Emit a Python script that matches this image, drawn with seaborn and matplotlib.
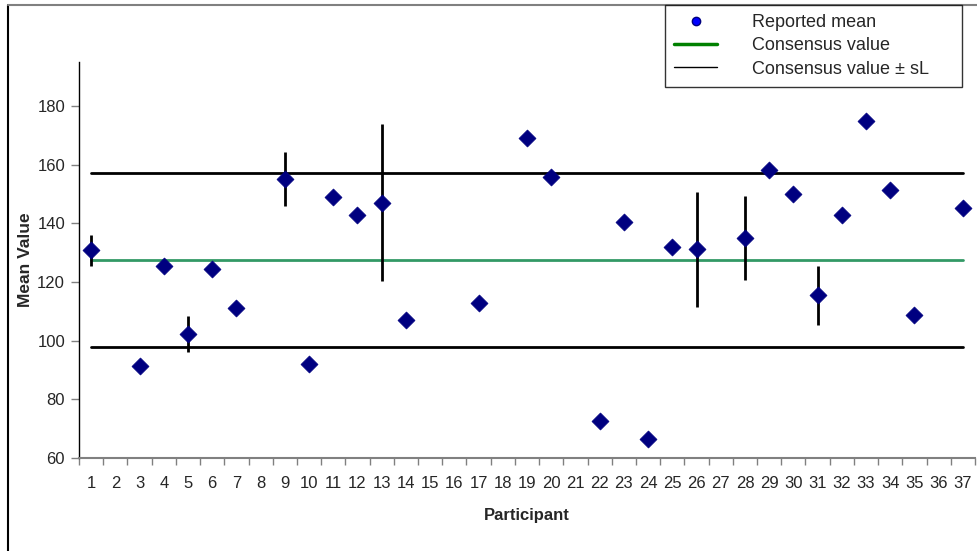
import numpy as np
import pandas as pd
import matplotlib
matplotlib.use("Agg")
import matplotlib.pyplot as plt
from matplotlib.lines import Line2D
import seaborn as sns

# ------------------------------------------------------------
# data
# ------------------------------------------------------------
participants = [str(i) for i in range(1, 38)]
reported_mean = [130.8, np.nan, 91.2, 125.5, 102.4, 124.5, 111.2, np.nan, 155.2, 92.0,
                 149.1, 143.0, 147.1, 107.1, np.nan, np.nan, 112.9, np.nan, 169.1, 155.7,
                 np.nan, 72.7, 140.4, 66.4, 131.8, 131.2, np.nan, 135.0, 158.1, 149.9,
                 115.4, 142.8, 174.8, 151.5, 108.6, np.nan, 145.2]
reported_sd = [5.3, 0, 0, 0, 6.1, 0, 2.0, 0, 9.2, 0,
               0, 0, 26.6, 0, 0, 0, 0, 0, 0, 0,
               0, 0, 0, 0, 0, 19.6, 0, 14.2, 0, 0,
               10.0, 0, 0, 0, 0, 0, 0]
consensus = 127.5
s_L = 29.8

df = pd.DataFrame({"Participant": participants,
                   "Mean": reported_mean,
                   "SD": reported_sd})
df["pos"] = np.arange(len(df))
df["Consensus"] = consensus
df["Upper"] = consensus + s_L
df["Lower"] = consensus - s_L

# ------------------------------------------------------------
# plot
# ------------------------------------------------------------
sns.set_style("white")
plt.rcParams["font.family"] = ["Liberation Sans", "DejaVu Sans"]

fig = plt.figure(figsize=(9.78, 5.51), dpi=100)
ax = fig.add_axes([79 / 978, 1 - 458 / 551, (975 - 79) / 978, (458 - 62) / 551])

sns.lineplot(data=df, x="pos", y="Upper", color="black", lw=2, ax=ax)
sns.lineplot(data=df, x="pos", y="Lower", color="black", lw=2, ax=ax)
sns.lineplot(data=df, x="pos", y="Consensus", color="#339966", lw=2, ax=ax)

bars = df[df["SD"] > 0]
ax.errorbar(bars["pos"], bars["Mean"], yerr=bars["SD"], fmt="none",
            ecolor="black", elinewidth=2, capsize=0, zorder=3)

sns.scatterplot(data=df, x="pos", y="Mean", marker="D", s=75,
                color="#000080", edgecolor="#000080", linewidth=0.5,
                zorder=4, ax=ax)

ax.set_xlim(-0.5, len(df) - 0.5)
ax.set_ylim(60, 195)
ax.set_yticks([60, 80, 100, 120, 140, 160, 180])
ax.set_xticks(df["pos"])
ax.set_xticklabels(participants)
ax.set_xticks(np.arange(-0.5, len(df)), minor=True)
ax.tick_params(axis="x", which="major", bottom=True, length=0, pad=13, labelsize=12)
ax.tick_params(axis="x", which="minor", bottom=True, length=5, width=1,
               color="#808080", direction="out")
ax.tick_params(axis="y", left=True, length=6, width=1, color="#808080",
               direction="out", labelsize=12, pad=4)

ax.set_xlabel("Participant", fontsize=12, fontweight="bold", labelpad=12)
ax.set_ylabel("Mean Value", fontsize=12.5, fontweight="bold", labelpad=3)

for side in ["top", "right"]:
    ax.spines[side].set_visible(False)
ax.spines["left"].set_color("black")
ax.spines["bottom"].set_color("#808080")
ax.spines["left"].set_linewidth(1)
ax.spines["bottom"].set_linewidth(1.5)

# outer chart border (left and top edges only visible)
fig.add_artist(Line2D([8 / 978, 8 / 978], [0, 1 - 5 / 551], color="black",
                      lw=1.5, transform=fig.transFigure))
fig.add_artist(Line2D([8 / 978, 1], [1 - 5 / 551, 1 - 5 / 551], color="#808080",
                      lw=1.5, transform=fig.transFigure))

handles = [
    Line2D([], [], marker="o", ls="none", color="#0000ff", markersize=6,
           markeredgecolor="#000080"),
    Line2D([], [], color="#008000", lw=2.5),
    Line2D([], [], color="black", lw=1),
]
labels = ["Reported mean", "Consensus value", "Consensus value \u00b1 sL"]
leg = fig.legend(handles, labels, loc="upper left", mode="expand",
                 bbox_to_anchor=(665 / 978, 1 - 87 / 551, 297 / 978, 82 / 551),
                 frameon=True, fancybox=False, fontsize=13,
                 handlelength=2.4, handletextpad=1.9, borderpad=0.5,
                 labelspacing=0.35, borderaxespad=0)
leg.get_frame().set_edgecolor("black")
leg.get_frame().set_linewidth(1)

fig.savefig("out.png", dpi=100)
